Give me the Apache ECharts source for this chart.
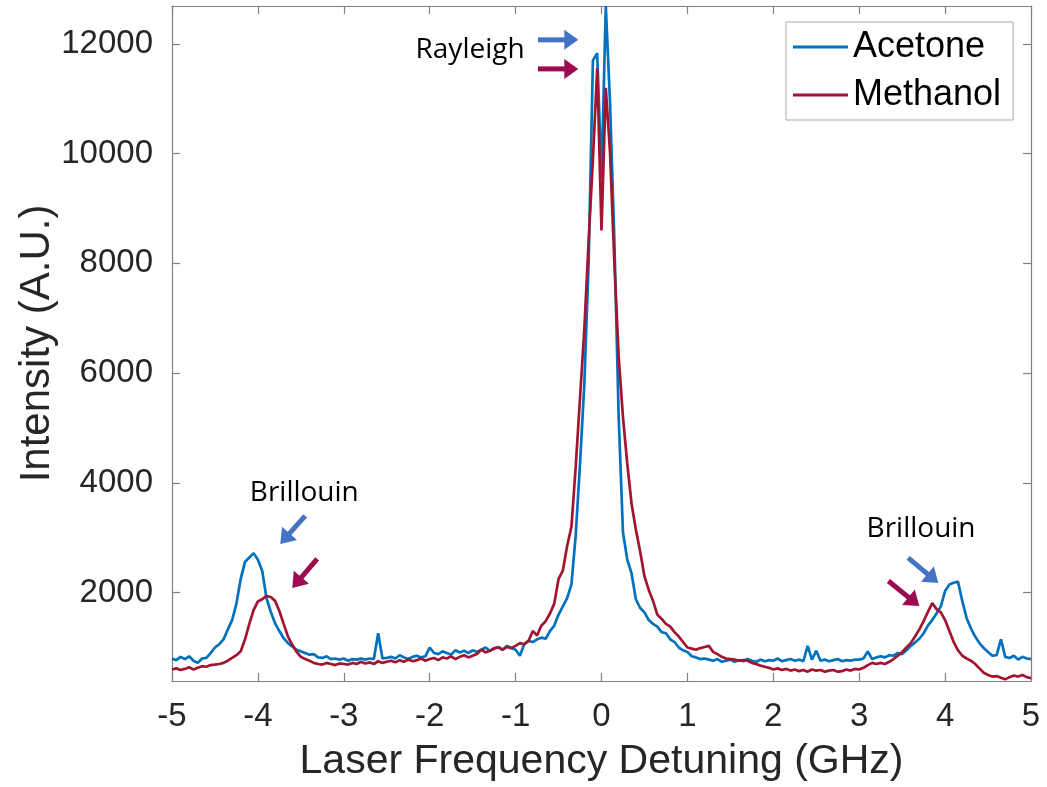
<!DOCTYPE html>
<html>
<head>
<meta charset="utf-8">
<script src="https://cdn.jsdelivr.net/npm/echarts@6/dist/echarts.min.js"></script>
<style>
  html, body { margin: 0; padding: 0; background: #fff; }
  #chart { width: 1047px; height: 787px; }
</style>
</head>
<body>
<div id="chart"></div>
<script>
// Spectra sampled every 0.05 GHz from -5 to 5 GHz
const startGHz = -5;
const stepGHz = 0.05;

const acetone = [
  800, 770, 830, 790, 840, 760, 720, 800, 810, 900,
  1000, 1060, 1150, 1330, 1500, 1800, 2250, 2560, 2640, 2720,
  2600, 2400, 1900, 1650, 1440, 1300, 1170, 1080, 1020, 960,
  930, 900, 870, 880, 820, 810, 840, 790, 800, 780,
  800, 760, 790, 780, 800, 780, 800, 790, 1260, 800,
  810, 830, 800, 860, 820, 790, 830, 850, 820, 840,
  1000, 900, 880, 930, 900, 870, 950, 910, 940, 900,
  950, 920, 960, 1000, 940, 980, 1010, 960, 1030, 990,
  960, 850, 1060, 1120, 1100, 1150, 1180, 1160, 1300, 1400,
  1600, 1750, 1900, 2150, 3050, 4350, 5800, 8000, 11700, 11830,
  9550, 12690, 10900, 8400, 5200, 3100, 2600, 2350, 1880, 1720,
  1640, 1500, 1430, 1380, 1280, 1260, 1150, 1100, 1000, 950,
  920, 840, 820, 790, 800, 780, 760, 790, 740, 760,
  780, 740, 770, 750, 790, 760, 740, 780, 750, 770,
  760, 800, 750, 770, 790, 760, 780, 750, 1030, 780,
  940, 760, 780, 750, 770, 790, 750, 770, 760, 780,
  780, 800, 930, 790, 820, 840, 820, 860, 850, 900,
  880, 950, 1030, 1090, 1160, 1260, 1400, 1500, 1620, 1750,
  2030, 2150, 2180, 2200, 1850, 1540, 1350, 1200, 1080, 990,
  920, 850, 860, 1150, 830, 810, 850, 780, 830, 800,
  790
];

const methanol = [
  600, 620, 590, 610, 640, 600, 630, 660, 650, 680,
  690, 700, 720, 760, 810, 860, 930, 1150, 1430, 1680,
  1840, 1880, 1940, 1920, 1850, 1665, 1430, 1200, 1050, 920,
  830, 790, 760, 720, 700, 690, 720, 700, 680, 710,
  700, 690, 720, 700, 740, 710, 730, 700, 750, 720,
  740, 760, 730, 770, 740, 780, 750, 770, 800, 760,
  790, 810, 770, 820, 800, 840, 790, 830, 860, 820,
  850, 880, 960, 910, 940, 990, 1000, 960, 1010, 990,
  1030, 1080, 1060, 1120, 1300, 1220, 1400, 1480, 1620, 1800,
  2250, 2400, 2850, 3200, 4300, 5550, 6800, 8400, 9900, 11560,
  8600, 11200, 10000, 8000, 6300, 5200, 4350, 3620, 3150, 2750,
  2300, 2050, 1850, 1600, 1520, 1430, 1380, 1280, 1200, 1100,
  1000, 980, 960, 990, 1010, 1030, 920, 880, 830, 800,
  790, 780, 760, 770, 760, 720, 700, 670, 650, 630,
  600, 620, 590, 610, 580, 600, 570, 590, 560, 600,
  580, 590, 560, 580, 590, 560, 570, 600, 580, 610,
  600, 630, 680, 720, 700, 720, 700, 740, 790, 850,
  920, 1000, 1080, 1200, 1330, 1480, 1650, 1810, 1700, 1640,
  1500, 1300, 1100, 950, 850, 800, 760, 700, 620, 540,
  500, 470, 480, 450, 420, 460, 490, 470, 500, 460,
  440
];

const seriesNames = ['Acetone', 'Methanol'];
const xTicks = [-5, -4, -3, -2, -1, 0, 1, 2, 3, 4, 5];
const yTicks = [2000, 4000, 6000, 8000, 10000, 12000];
const yRange = [390, 12690];

// Annotation anchors in data coordinates (GHz, intensity)
const annotationTexts = [
  { text: 'Rayleigh', at: [-1.53, 11890] },
  { text: 'Brillouin', at: [-3.46, 3820] },
  { text: 'Brillouin', at: [3.72, 3162] }
];
const annotationArrows = [
  { from: [-0.74, 12073], to: [-0.27, 12073], color: '#4472C4' },
  { from: [-0.74, 11544], to: [-0.27, 11544], color: '#9C0A52' },
  { from: [-3.45, 3400], to: [-3.74, 2888], color: '#4472C4' },
  { from: [-3.31, 2614], to: [-3.60, 2085], color: '#9C0A52' },
  { from: [3.57, 2633], to: [3.92, 2176], color: '#4472C4' },
  { from: [3.34, 2213], to: [3.70, 1756], color: '#9C0A52' }
];

const detuning = acetone.map((_, i) => +(startGHz + i * stepGHz).toFixed(2));

const FONT = '"Liberation Sans", Arial, Helvetica, sans-serif';
const AXIS_GRAY = '#808080';
const TEXT_DARK = '#262626';

const chart = echarts.init(document.getElementById('chart'), null, { renderer: 'canvas' });

const tickStyle = { show: true, inside: true, length: 8, lineStyle: { color: AXIS_GRAY, width: 1.2 } };
const lineStyleAxis = { show: true, onZero: false, lineStyle: { color: AXIS_GRAY, width: 1.2 } };
const plainNumber = v => String(v);

chart.setOption({
  animation: false,
  backgroundColor: '#ffffff',
  grid: { left: 172, right: 16, top: 6, bottom: 106, containLabel: false },
  legend: {
    orient: 'vertical',
    left: 786,
    top: 22,
    padding: [4, 12, 4, 7],
    itemGap: 6,
    itemWidth: 55,
    itemHeight: 3,
    icon: 'rect',
    borderColor: '#a8a8a8',
    borderWidth: 1,
    backgroundColor: '#ffffff',
    data: seriesNames,
    textStyle: { fontFamily: FONT, fontSize: 36, color: '#000', lineHeight: 42 }
  },
  xAxis: [
    {
      type: 'value',
      min: xTicks[0],
      max: xTicks[xTicks.length - 1],
      interval: 1,
      name: 'Laser Frequency Detuning (GHz)',
      nameLocation: 'middle',
      nameGap: 60,
      nameMoveOverlap: false,
      nameTextStyle: { fontFamily: FONT, fontSize: 41, color: TEXT_DARK },
      axisLine: lineStyleAxis,
      axisTick: tickStyle,
      splitLine: { show: false },
      axisLabel: { fontFamily: FONT, fontSize: 33, color: TEXT_DARK, margin: 19, formatter: plainNumber }
    },
    {
      type: 'value',
      position: 'top',
      min: xTicks[0],
      max: xTicks[xTicks.length - 1],
      interval: 1,
      axisLine: lineStyleAxis,
      axisTick: tickStyle,
      splitLine: { show: false },
      axisLabel: { show: false }
    }
  ],
  yAxis: [
    {
      type: 'value',
      min: yRange[0],
      max: yRange[1],
      name: 'Intensity (A.U.)',
      nameLocation: 'middle',
      nameGap: 114,
      nameMoveOverlap: false,
      nameTextStyle: { fontFamily: FONT, fontSize: 42, color: TEXT_DARK },
      axisLine: lineStyleAxis,
      axisTick: Object.assign({ customValues: yTicks }, tickStyle),
      splitLine: { show: false },
      axisLabel: { fontFamily: FONT, fontSize: 33, color: TEXT_DARK, margin: 19, customValues: yTicks, formatter: plainNumber }
    },
    {
      type: 'value',
      position: 'right',
      min: yRange[0],
      max: yRange[1],
      axisLine: lineStyleAxis,
      axisTick: Object.assign({ customValues: yTicks }, tickStyle),
      splitLine: { show: false },
      axisLabel: { show: false, customValues: yTicks }
    }
  ],
  series: [
    {
      name: seriesNames[0],
      type: 'line',
      xAxisIndex: 0,
      yAxisIndex: 0,
      symbol: 'none',
      showSymbol: false,
      color: '#0072BD',
      lineStyle: { color: '#0072BD', width: 2.7 },
      data: detuning.map((x, i) => [x, acetone[i]])
    },
    {
      name: seriesNames[1],
      type: 'line',
      xAxisIndex: 0,
      yAxisIndex: 0,
      symbol: 'none',
      showSymbol: false,
      color: '#A2142F',
      lineStyle: { color: '#A2142F', width: 2.7 },
      data: detuning.map((x, i) => [x, methanol[i]])
    }
  ]
});

// Arrows and labels placed through the axis scales
function toPx(p) {
  return chart.convertToPixel({ xAxisIndex: 0, yAxisIndex: 0 }, p);
}

function arrowElements(a) {
  const t = toPx(a.from), h = toPx(a.to);
  const dx = h[0] - t[0], dy = h[1] - t[1];
  const len = Math.hypot(dx, dy);
  const ux = dx / len, uy = dy / len;
  const nx = -uy, ny = ux;
  const headLen = 14, headHalf = 10;
  const bx = h[0] - ux * headLen, by = h[1] - uy * headLen;
  return [
    {
      type: 'line',
      shape: { x1: t[0], y1: t[1], x2: bx + ux * 1, y2: by + uy * 1 },
      style: { stroke: a.color, lineWidth: 5 },
      z: 100
    },
    {
      type: 'polygon',
      shape: { points: [[h[0], h[1]], [bx + nx * headHalf, by + ny * headHalf], [bx - nx * headHalf, by - ny * headHalf]] },
      style: { fill: a.color },
      z: 100
    }
  ];
}

const graphics = [];
annotationArrows.forEach(a => graphics.push(...arrowElements(a)));
annotationTexts.forEach(t => {
  const p = toPx(t.at);
  graphics.push({
    type: 'text',
    x: p[0],
    y: p[1],
    z: 100,
    style: {
      text: t.text,
      fontFamily: '"Open Sans", "Noto Sans", sans-serif',
      fontSize: 28,
      fill: '#000',
      align: 'center',
      verticalAlign: 'middle'
    }
  });
});
chart.setOption({ graphic: graphics });
</script>
</body>
</html>
